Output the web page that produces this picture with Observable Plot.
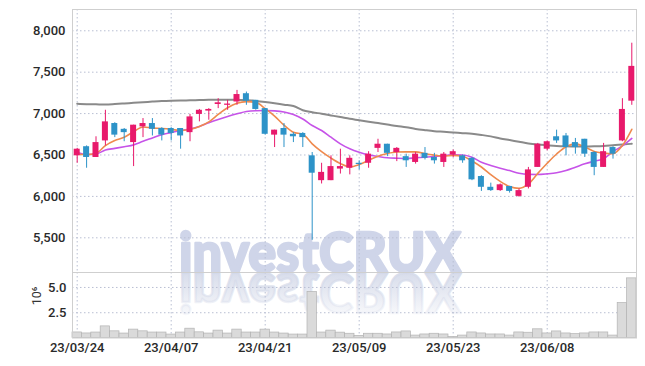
<!DOCTYPE html>
<html><head><meta charset="utf-8">
<script src="https://cdn.jsdelivr.net/npm/d3@7"></script>
<script src="https://cdn.jsdelivr.net/npm/@observablehq/plot@0.6"></script>
<style>
body{margin:0;background:#fff;}
#wrap{position:relative;width:645px;height:366px;overflow:hidden;background:#fff;}
#wrap svg{position:absolute;left:0;overflow:visible;}
</style></head><body><div id="wrap"></div>
<script>
const dates = ["23/03/24","23/03/27","23/03/28","23/03/29","23/03/30","23/03/31","23/04/03","23/04/04","23/04/05","23/04/06",
"23/04/07","23/04/10","23/04/11","23/04/12","23/04/13","23/04/14","23/04/17","23/04/18","23/04/19","23/04/20",
"23/04/21","23/04/24","23/04/25","23/04/26","23/04/27","23/04/28","23/05/02","23/05/03","23/05/04","23/05/08",
"23/05/09","23/05/10","23/05/11","23/05/12","23/05/15","23/05/16","23/05/17","23/05/18","23/05/19","23/05/22",
"23/05/23","23/05/24","23/05/25","23/05/26","23/05/30","23/05/31","23/06/01","23/06/02","23/06/05","23/06/07",
"23/06/08","23/06/09","23/06/12","23/06/13","23/06/14","23/06/15","23/06/16","23/06/19","23/06/20","23/06/21"];
const open = [6490,6600,6470,6670,6880,6810,6650,6840,6880,6820,6820,6820,6770,6990,7030,7110,7100,7140,7240,7160,
7060,6740,6820,6750,6760,6490,6190,6190,6330,6340,6400,6400,6580,6630,6530,6480,6410,6520,6470,6410,
6500,6490,6460,6240,6110,6070,6120,6000,6110,6350,6570,6720,6730,6650,6690,6530,6350,6590,6670,7150];
const high = [6580,6610,6720,7040,6890,6820,6860,6940,6940,6830,6830,6820,6990,7050,7060,7180,7160,7280,7260,7160,
7060,6800,6880,6770,6770,6530,6400,6490,6570,6490,6430,6540,6690,6630,6590,6510,6530,6590,6520,6530,
6560,6500,6470,6250,6160,6150,6120,6090,6350,6640,6670,6800,6760,6700,6690,6540,6640,6600,7180,7850];
const low = [6400,6340,6470,6610,6710,6660,6360,6710,6730,6670,6670,6570,6660,6900,6920,7060,7040,7100,7100,7040,
6740,6590,6590,6650,6590,5470,6150,6190,6270,6260,6320,6340,6530,6480,6420,6350,6390,6440,6390,6350,
6470,6400,6190,6060,6060,6060,6040,5990,6090,6350,6550,6640,6490,6510,6470,6250,6350,6450,6660,7100];
const close = [6570,6470,6650,6900,6740,6770,6860,6880,6810,6740,6760,6730,6960,7040,7050,7130,7110,7230,7150,7050,
6750,6800,6740,6720,6710,6280,6290,6360,6360,6460,6390,6510,6630,6520,6580,6430,6510,6460,6430,6510,
6540,6430,6200,6110,6070,6140,6060,6070,6320,6630,6660,6670,6590,6590,6510,6350,6540,6510,7050,7570];
const volume = [550000,450000,540000,1150000,660000,440000,830000,660000,540000,540000,
340000,540000,920000,560000,440000,730000,440000,830000,540000,540000,
830000,540000,440000,340000,340000,4550000,540000,730000,530000,420000,
210000,420000,420000,350000,550000,650000,240000,350000,420000,350000,
110000,240000,550000,450000,350000,350000,240000,550000,520000,860000,
450000,650000,450000,380000,450000,550000,550000,240000,3450000,5900000];
const ma5 = [6509,6506,6521,6614,6675,6715,6780,6838,6825,6820,6810,6795,6810,6845,6900,6990,7070,7125,7145,7135,
7060,6970,6860,6775,6750,6635,6540,6462,6396,6357,6385,6435,6486,6518,6536,6538,6538,6516,6498,6485,
6496,6484,6428,6355,6262,6181,6119,6097,6150,6278,6400,6512,6600,6634,6598,6543,6523,6516,6614,6810];
const ma20 = [6530,6506,6512,6560,6580,6600,6622,6665,6705,6745,6770,6796,6815,6845,6889,6929,6965,6997,7025,7035,
7037,7033,7020,6990,6935,6856,6796,6715,6635,6575,6533,6502,6482,6466,6461,6458,6466,6474,6482,6492,
6502,6500,6473,6413,6373,6340,6312,6280,6266,6264,6272,6285,6312,6352,6393,6425,6454,6540,6610,6700];
const ma60 = [7118,7114,7112,7110,7115,7122,7130,7137,7145,7152,7156,7158,7160,7163,7166,7168,7168,7166,7160,7152,
7140,7125,7108,7092,7040,7017,6998,6978,6958,6937,6920,6902,6885,6868,6850,6835,6815,6800,6787,6780,
6772,6764,6756,6742,6725,6700,6680,6660,6640,6627,6618,6610,6606,6604,6604,6606,6610,6618,6626,6636];
const tickLabels = ["23/03/24","23/04/07","23/04/21","23/05/09","23/05/23","23/06/08"];
const priceTicks = [5500,6000,6500,7000,7500,8000];
const volumeTicks = [2500000,5000000];

const rows = dates.map((d,i)=>({date:d, open:open[i], high:high[i], low:low[i], close:close[i],
  volume:volume[i], ma5:ma5[i], ma20:ma20[i], ma60:ma60[i]}));

const UP = "#e8196b", DOWN = "#2d93c8";
const GRID = {stroke:"#b9bfd3", strokeOpacity:1, strokeDasharray:"1.5,2.5"};
const FONT = "Roboto,'DejaVu Sans Condensed',sans-serif";
const TICK = {fontSize:13, fontWeight:500, letterSpacing:"-0.6px", fill:"#2a2a2a"};
const col = d => d.close >= d.open ? UP : DOWN;

const price = Plot.plot({
  width:645, height:272, marginTop:9, marginBottom:0, marginLeft:72, marginRight:9,
  style:{background:"transparent", fontFamily:FONT, fontSize:"13px", color:"#2a2a2a"},
  x:{type:"band", domain:dates, padding:0, round:false, axis:null},
  y:{domain:[5081,8257], axis:null},
  color:{type:"identity"},
  marks:[
    Plot.gridY(priceTicks, GRID),
    Plot.gridX(tickLabels, GRID),
    Plot.axisY(priceTicks, {tickSize:0, tickPadding:7, tickFormat:d3.format(","), label:null, ...TICK}),
    Plot.frame({stroke:"#cfcfcf"}),
    Plot.line(rows, {x:"date", y:"ma60", stroke:"#8a8a8a", strokeWidth:2, curve:"monotone-x"}),
    Plot.line(rows, {x:"date", y:"ma20", stroke:"#c653e8", strokeWidth:1.6, curve:"monotone-x"}),
    Plot.line(rows, {x:"date", y:"ma5", stroke:"#ef8a4e", strokeWidth:1.6, curve:"monotone-x"}),
    Plot.ruleX(rows, {x:"date", y1:"low", y2:"high", stroke:col, strokeWidth:1}),
    Plot.barY(rows, {x:"date", y1:"open", y2:d=>Math.abs(d.close-d.open)<15 ? d.open+(d.close>=d.open?15:-15) : d.close, fill:col, insetLeft:1.7, insetRight:1.7})
  ]
});

const vol = Plot.plot({
  width:645, height:94, marginTop:0, marginBottom:28.5, marginLeft:72, marginRight:9,
  style:{background:"transparent", fontFamily:FONT, fontSize:"13px", color:"#2a2a2a"},
  x:{type:"band", domain:dates, padding:0, round:false, axis:null},
  y:{domain:[0,6480000], axis:null},
  marks:[
    Plot.gridY(volumeTicks, GRID),
    Plot.gridX(tickLabels, GRID),
    Plot.barY(rows, {x:"date", y:"volume", fill:"#dadada", stroke:"#b3b3b3", strokeWidth:0.7}),
    Plot.axisY(volumeTicks, {tickSize:0, tickPadding:6, tickFormat:d=>(d/1e6).toFixed(1), label:null, ...TICK}),
    Plot.text(["10⁶"], {frameAnchor:"left", text:d=>d, rotate:-90, dx:-36, dy:0, fontSize:12.5, fill:"#333"}),
    Plot.axisX(tickLabels, {tickSize:0, tickPadding:5, label:null, ...TICK}),
    Plot.frame({stroke:"#cfcfcf"})
  ]
});

const wrap = document.getElementById("wrap");
price.style.top = "0px";
vol.style.top = "272px";
wrap.appendChild(vol);
wrap.appendChild(price);

// watermark
const WM_FONT = "Lato,'Open Sans','DejaVu Sans',sans-serif";
d3.select(price).insert("text","g")
  .attr("x",179).attr("y",272).attr("text-anchor","start")
  .attr("font-family",WM_FONT).attr("font-weight",900).attr("font-size",55)
  .attr("textLength",282).attr("lengthAdjust","spacingAndGlyphs")
  .attr("fill","#cfd5e9").attr("stroke","#cfd5e9").attr("stroke-width",2.4).attr("stroke-linejoin","round")
  .text("investCRUX");
const vs = d3.select(vol);
const defs = vs.insert("defs","g");
const lg = defs.append("linearGradient").attr("id","refl").attr("gradientUnits","userSpaceOnUse")
  .attr("x1",0).attr("y1",1).attr("x2",0).attr("y2",-40);
lg.append("stop").attr("offset",0).attr("stop-color","#d6dbea").attr("stop-opacity",0.95);
lg.append("stop").attr("offset",1).attr("stop-color","#d6dbea").attr("stop-opacity",0.2);
vs.insert("text","g")
  .attr("x",179).attr("y",1).attr("text-anchor","start").attr("transform","translate(0,2) scale(1,-1)")
  .attr("font-family",WM_FONT).attr("font-weight",900).attr("font-size",55)
  .attr("textLength",282).attr("lengthAdjust","spacingAndGlyphs")
  .attr("fill","url(#refl)").attr("stroke","url(#refl)").attr("stroke-width",2.4).attr("stroke-linejoin","round")
  .text("investCRUX");
</script></body></html>
